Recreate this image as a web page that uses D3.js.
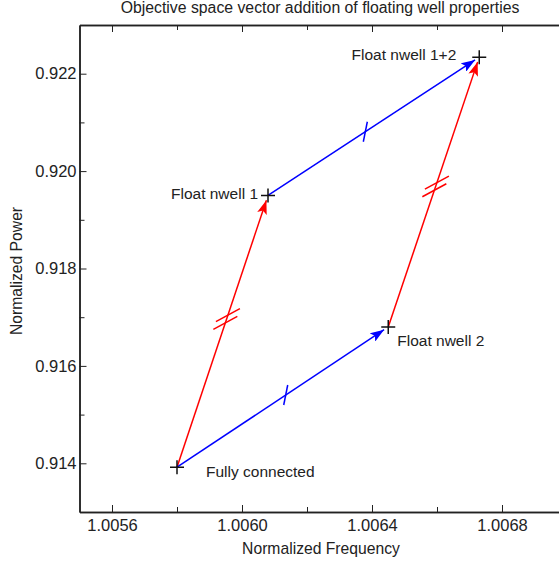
<!DOCTYPE html>
<html>
<head>
<meta charset="utf-8">
<script src="https://cdn.jsdelivr.net/npm/d3@7"></script>
<style>
  body { margin: 0; background: #fff; }
  svg { display: block; font-family: "Liberation Sans", Arial, sans-serif; }
  .axis path, .axis line { stroke: #222; }
  .axis text { font-size: 16.5px; fill: #222; }
</style>
</head>
<body>
<div class="chart"></div>
<script>
// states in objective space (frequency, power)
const names = ['Fully connected', 'Float nwell 1', 'Float nwell 2', 'Float nwell 1+2'];
const freq = [1.00580, 1.00608, 1.00645, 1.00673];
const power = [0.91392, 0.91950, 0.91680, 0.92234];

// vectors: [from index, to index, colour]
const vectors = [
    [0, 1, 'red'],
    [2, 3, 'red'],
    [0, 2, 'blue'],
    [1, 3, 'blue']
];

const xTicks = [1.0056, 1.0060, 1.0064, 1.0068];
const xMinor = [1.0058, 1.0062, 1.0066];
const yTicks = [0.914, 0.916, 0.918, 0.920, 0.922];
const yMinor = [0.915, 0.917, 0.919, 0.921];

const width = 559;
const height = 565;
const plot = {left: 79.5, right: 567, top: 25, bottom: 512};

// where the equal-length marks sit along each vector (fraction)
const markAt = [0.555, 0.53, 0.525, 0.47];

const svg = d3.select('.chart')
    .append('svg')
    .attr('width', width)
    .attr('height', height);

const xScale = d3.scaleLinear()
    .domain([1.0055, 1.0070])
    .range([plot.left, plot.right]);

const yScale = d3.scaleLinear()
    .domain([0.913, 0.923])
    .range([plot.bottom, plot.top]);

// axes, ticks pointing inward
svg.append('g')
    .attr('class', 'axis')
    .attr('transform', `translate(0, ${plot.bottom})`)
    .call(d3.axisBottom(xScale).tickValues(xTicks).tickFormat(d3.format('.4f'))
        .tickSizeInner(-7).tickSizeOuter(0).tickPadding(7));

svg.append('g')
    .attr('class', 'axis')
    .attr('transform', `translate(0, ${plot.bottom})`)
    .call(d3.axisBottom(xScale).tickValues(xMinor).tickFormat('')
        .tickSizeInner(-5).tickSizeOuter(0));

svg.append('g')
    .attr('class', 'axis')
    .attr('transform', `translate(0, ${plot.top})`)
    .call(d3.axisTop(xScale).tickValues(xTicks).tickFormat('')
        .tickSizeInner(-7).tickSizeOuter(0));

svg.append('g')
    .attr('class', 'axis')
    .attr('transform', `translate(0, ${plot.top})`)
    .call(d3.axisTop(xScale).tickValues(xMinor).tickFormat('')
        .tickSizeInner(-5).tickSizeOuter(0));

svg.append('g')
    .attr('class', 'axis')
    .attr('transform', `translate(${plot.left}, 0)`)
    .call(d3.axisLeft(yScale).tickValues(yTicks).tickFormat(d3.format('.3f'))
        .tickSizeInner(-7).tickSizeOuter(0).tickPadding(3));

svg.append('g')
    .attr('class', 'axis')
    .attr('transform', `translate(${plot.left}, 0)`)
    .call(d3.axisLeft(yScale).tickValues(yMinor).tickFormat('')
        .tickSizeInner(-5).tickSizeOuter(0));

svg.selectAll('.axis path').attr('stroke-width', 1.5);

// titles
svg.append('text')
    .attr('x', 320)
    .attr('y', 13)
    .attr('text-anchor', 'middle')
    .attr('font-size', 15.8)
    .attr('fill', '#222')
    .text('Objective space vector addition of floating well properties');

svg.append('text')
    .attr('x', 321)
    .attr('y', 554)
    .attr('text-anchor', 'middle')
    .attr('font-size', 15.7)
    .attr('fill', '#222')
    .text('Normalized Frequency');

svg.append('text')
    .attr('transform', 'translate(22, 271) rotate(-90)')
    .attr('text-anchor', 'middle')
    .attr('font-size', 15.7)
    .attr('fill', '#222')
    .text('Normalized Power');

// arrowheads
const defs = svg.append('defs');
['red', 'blue'].forEach(c => {
    defs.append('marker')
        .attr('id', 'head-' + c)
        .attr('viewBox', '0 0 14 10')
        .attr('refX', 14)
        .attr('refY', 5)
        .attr('markerWidth', 14)
        .attr('markerHeight', 10)
        .attr('markerUnits', 'userSpaceOnUse')
        .attr('orient', 'auto')
        .append('path')
        .attr('d', 'M0,0 L14,5 L0,10 L3,5 Z')
        .attr('fill', c);
});

const gap = 5;
const arrows = vectors.map((v, i) => {
    const x1 = xScale(freq[v[0]]), y1 = yScale(power[v[0]]);
    const x2 = xScale(freq[v[1]]), y2 = yScale(power[v[1]]);
    const len = Math.hypot(x2 - x1, y2 - y1);
    const ux = (x2 - x1) / len, uy = (y2 - y1) / len;
    return {x1, y1, x2: x2 - ux * gap, y2: y2 - uy * gap, ux, uy, color: v[2], t: markAt[i]};
});

svg.selectAll('line.vec')
    .data(arrows)
    .enter()
    .append('line')
    .attr('class', 'vec')
    .attr('x1', d => d.x1)
    .attr('y1', d => d.y1)
    .attr('x2', d => d.x2)
    .attr('y2', d => d.y2)
    .attr('stroke', d => d.color)
    .attr('stroke-width', 1.5)
    .attr('marker-end', d => `url(#head-${d.color})`);

// equal-length marks: single slash on blue, double on red
arrows.forEach(d => {
    const cx = d.x1 + (d.x2 - d.x1) * d.t;
    const cy = d.y1 + (d.y2 - d.y1) * d.t;
    if (d.color === 'blue') {
        svg.append('line')
            .attr('x1', cx - 2).attr('y1', cy + 10)
            .attr('x2', cx + 2).attr('y2', cy - 10)
            .attr('stroke', 'blue').attr('stroke-width', 1.5);
    } else {
        [-4, 4].forEach(o => {
            const ox = cx + d.ux * o, oy = cy + d.uy * o;
            svg.append('line')
                .attr('x1', ox - 12).attr('y1', oy + 6.5)
                .attr('x2', ox + 12).attr('y2', oy - 6.5)
                .attr('stroke', 'red').attr('stroke-width', 1.5);
        });
    }
});

// point markers
const pts = svg.selectAll('g.pt')
    .data(names)
    .enter()
    .append('g')
    .attr('class', 'pt')
    .attr('transform', (d, i) => `translate(${xScale(freq[i])}, ${yScale(power[i])})`);

pts.append('path')
    .attr('d', 'M-7,0 H7 M0,-7 V7')
    .attr('stroke', '#111')
    .attr('stroke-width', 1.5);

// labels
const labelPos = [
    {dx: 29, dy: 10, anchor: 'start'},
    {dx: -10, dy: 4, anchor: 'end'},
    {dx: 9, dy: 19, anchor: 'start'},
    {dx: -23, dy: 3, anchor: 'end'}
];

pts.append('text')
    .attr('x', (d, i) => labelPos[i].dx)
    .attr('y', (d, i) => labelPos[i].dy)
    .attr('text-anchor', (d, i) => labelPos[i].anchor)
    .attr('font-size', 15.5)
    .attr('fill', '#222')
    .text(d => d);
</script>
</body>
</html>
